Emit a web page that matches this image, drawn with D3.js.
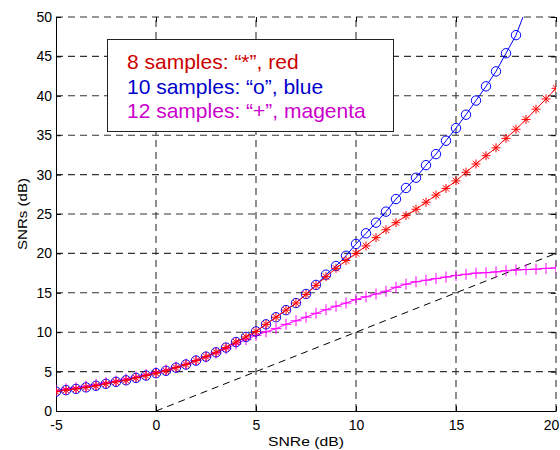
<!DOCTYPE html>
<html>
<head>
<meta charset="utf-8">
<script src="https://cdn.jsdelivr.net/npm/d3@7"></script>
<style>
  body { margin: 0; background: #fff; }
  svg { display: block; font-family: "Liberation Sans", Arial, sans-serif; }
</style>
</head>
<body>
<div id="chart"></div>
<script>
// SNRe axis samples (dB)
const snre = [
  -5, -4.5, -4, -3.5, -3, -2.5, -2, -1.5, -1, -0.5,
  0, 0.5, 1, 1.5, 2, 2.5, 3, 3.5, 4, 4.5,
  5, 5.5, 6, 6.5, 7, 7.5, 8, 8.5, 9, 9.5,
  10, 10.5, 11, 11.5, 12, 12.5, 13, 13.5, 14, 14.5,
  15, 15.5, 16, 16.5, 17, 17.5, 18, 18.5, 19, 19.5,
  20
]

// 8 samples, "*", red
const snrs8 = [
  2.45, 2.65, 2.8, 3.0, 3.2, 3.45, 3.7, 3.9, 4.2, 4.5,
  4.8, 5.1, 5.5, 5.9, 6.4, 6.9, 7.45, 8.05, 8.75, 9.4,
  10.1, 11.0, 11.9, 12.8, 13.7, 14.8, 15.95, 17.05, 18.1, 19.1,
  20.0, 20.95, 22.0, 23.0, 23.9, 24.8, 25.6, 26.5, 27.4, 28.25,
  29.2, 30.3, 31.35, 32.4, 33.4, 34.6, 35.75, 37.0, 38.3, 39.6,
  40.95
]

// 10 samples, "o", blue
const snrs10 = [
  2.45, 2.65, 2.8, 3.0, 3.2, 3.45, 3.7, 3.9, 4.2, 4.5,
  4.8, 5.1, 5.5, 5.9, 6.4, 6.9, 7.45, 8.05, 8.75, 9.4,
  10.1, 11.0, 11.9, 12.8, 13.7, 14.85, 16.0, 17.3, 18.4, 19.7,
  21.2, 22.55, 23.9, 25.3, 26.9, 28.3, 29.6, 31.2, 32.6, 34.3,
  35.9, 37.6, 39.4, 41.2, 43.1, 45.4, 47.7, 51.0, 54.0, 57.0,
  60.0
]

// 12 samples, "+", magenta
const snrs12 = [
  2.6, 2.8, 2.95, 3.15, 3.35, 3.6, 3.8, 4.05, 4.3, 4.6,
  4.9, 5.2, 5.55, 5.95, 6.4, 6.85, 7.35, 7.9, 8.5, 9.05,
  9.6, 10.05, 10.45, 11.0, 11.45, 11.9, 12.4, 12.85, 13.3, 13.7,
  14.15, 14.5, 14.85, 15.2, 15.7, 16.1, 16.4, 16.6, 16.8, 17.0,
  17.2, 17.35, 17.5, 17.55, 17.65, 17.8, 17.9, 17.95, 18.0, 18.1,
  18.15
]

// reference line SNRs = SNRe
const refX = [0, 20]
const refY = [0, 20]

const xTicks = [-5, 0, 5, 10, 15, 20]
const yTicks = [0, 5, 10, 15, 20, 25, 30, 35, 40, 45, 50]

const legendLines = [
  { text: '8 samples: \u201c*\u201d, red', color: '#cc0000' },
  { text: '10 samples: \u201co\u201d, blue', color: '#0000cc' },
  { text: '12 samples: \u201c+\u201d, magenta', color: '#cc00cc' }
]

const width = 560
const height = 450
const margin = { top: 17, right: 4, bottom: 39, left: 56 }
const x0 = margin.left
const x1 = width - margin.right
const y0 = height - margin.bottom
const y1 = margin.top

const x = d3.scaleLinear().domain([-5, 20]).range([x0, x1])
const y = d3.scaleLinear().domain([0, 50]).range([y0, y1])

const svg = d3.select('#chart').append('svg')
  .attr('width', width)
  .attr('height', height)

svg.append('defs').append('clipPath').attr('id', 'clip')
  .append('rect')
  .attr('x', x0).attr('y', y1)
  .attr('width', x1 - x0).attr('height', y0 - y1)

// dashed grid
const grid = svg.append('g').attr('class', 'grid')
  .attr('stroke', '#333')
  .attr('stroke-width', 1.1)
  .attr('stroke-dasharray', '7,5')
grid.selectAll('line.v').data(xTicks.slice(1)).enter()
  .append('line').attr('class', 'v')
  .attr('x1', d => x(d)).attr('x2', d => x(d))
  .attr('y1', y0).attr('y2', y1)
grid.selectAll('line.h').data(yTicks.slice(1)).enter()
  .append('line').attr('class', 'h')
  .attr('x1', x0).attr('x2', x1)
  .attr('y1', d => y(d)).attr('y2', d => y(d))

// axes
const tickLen = 5
const fontSize = 14
const fmt = d => String(d) // plain hyphen minus, as in the original

svg.append('g')
  .attr('transform', 'translate(0,' + y0 + ')')
  .call(d3.axisBottom(x).tickValues(xTicks).tickFormat(fmt).tickSizeInner(-tickLen).tickSizeOuter(0).tickPadding(9))
  // last label sits on the window edge: nudge it in so it stays readable
  .call(g => g.selectAll('.tick text').filter(d => d === 20).attr('dx', -5))
svg.append('g')
  .attr('transform', 'translate(' + x0 + ',0)')
  .call(d3.axisLeft(y).tickValues(yTicks).tickFormat(fmt).tickSizeInner(-tickLen).tickSizeOuter(0).tickPadding(4))
svg.append('g')
  .attr('transform', 'translate(0,' + y1 + ')')
  .call(d3.axisTop(x).tickValues(xTicks).tickSizeInner(-tickLen).tickSizeOuter(0).tickFormat(''))
  .call(g => g.select('.domain').remove())
svg.append('g')
  .attr('transform', 'translate(' + x1 + ',0)')
  .call(d3.axisRight(y).tickValues(yTicks).tickSizeInner(-tickLen).tickSizeOuter(0).tickFormat(''))
  .call(g => g.select('.domain').remove())

svg.selectAll('.tick text')
  .attr('font-family', '"Liberation Sans", Arial, sans-serif')
  .attr('font-size', fontSize)
  .attr('fill', '#000')
svg.selectAll('.domain').attr('stroke', '#000')
svg.selectAll('.tick line').attr('stroke', '#000')

// axis titles
svg.append('text')
  .attr('x', (x0 + x1) / 2)
  .attr('y', 446)
  .attr('text-anchor', 'middle')
  .attr('font-size', 13.5)
  .attr('textLength', 76)
  .attr('lengthAdjust', 'spacingAndGlyphs')
  .text('SNRe (dB)')

svg.append('text')
  .attr('transform', 'translate(27,' + (y0 + y1) / 2 + ') rotate(-90)')
  .attr('text-anchor', 'middle')
  .attr('font-size', 13.5)
  .attr('textLength', 72)
  .attr('lengthAdjust', 'spacingAndGlyphs')
  .text('SNRs (dB)')

// reference dashed line
const plot = svg.append('g').attr('clip-path', 'url(#clip)')
plot.append('path')
  .datum(refX.map((v, i) => [v, refY[i]]))
  .attr('fill', 'none')
  .attr('stroke', '#000')
  .attr('stroke-width', 1)
  .attr('stroke-dasharray', '7,5')
  .attr('d', d3.line().x(d => x(d[0])).y(d => y(d[1])))

const line = d3.line().x(d => x(d[0])).y(d => y(d[1]))

function markerPath (type) {
  if (type === 'plus') return 'M-5.5,0H5.5M0,-5.5V5.5'
  if (type === 'star') return 'M-4.5,0H4.5M0,-4.5V4.5M-3.2,-3.2L3.2,3.2M-3.2,3.2L3.2,-3.2'
  return null
}

const series = [
  { values: snrs12, color: '#ff00ff', marker: 'plus' },
  { values: snrs10, color: '#0000ff', marker: 'circle' },
  { values: snrs8, color: '#ff0000', marker: 'star' }
]

series.forEach(s => {
  const pts = snre.map((v, i) => [v, s.values[i]])
  const g = plot.append('g')
  g.append('path')
    .datum(pts)
    .attr('fill', 'none')
    .attr('stroke', s.color)
    .attr('stroke-width', 1)
    .attr('d', line)
  const shown = pts.filter(p => p[1] <= 50)
  if (s.marker === 'circle') {
    g.selectAll('circle').data(shown).enter().append('circle')
      .attr('cx', d => x(d[0]))
      .attr('cy', d => y(d[1]))
      .attr('r', 4.7)
      .attr('fill', 'none')
      .attr('stroke', s.color)
      .attr('stroke-width', 1)
  } else {
    g.selectAll('path.m').data(shown).enter().append('path')
      .attr('class', 'm')
      .attr('transform', d => 'translate(' + x(d[0]) + ',' + y(d[1]) + ')')
      .attr('d', markerPath(s.marker))
      .attr('fill', 'none')
      .attr('stroke', s.color)
      .attr('stroke-width', 1)
  }
})

// legend box
const legend = svg.append('g').attr('class', 'legend')
legend.append('rect')
  .attr('x', 107.5).attr('y', 39.5)
  .attr('width', 286).attr('height', 92)
  .attr('fill', '#fff')
  .attr('stroke', '#222')
  .attr('stroke-width', 1)
legend.selectAll('text').data(legendLines).enter().append('text')
  .attr('x', 127)
  .attr('y', (d, i) => 69 + i * 24.5)
  .attr('font-size', 21)
  .attr('fill', d => d.color)
  .text(d => d.text)
</script>
</body>
</html>
